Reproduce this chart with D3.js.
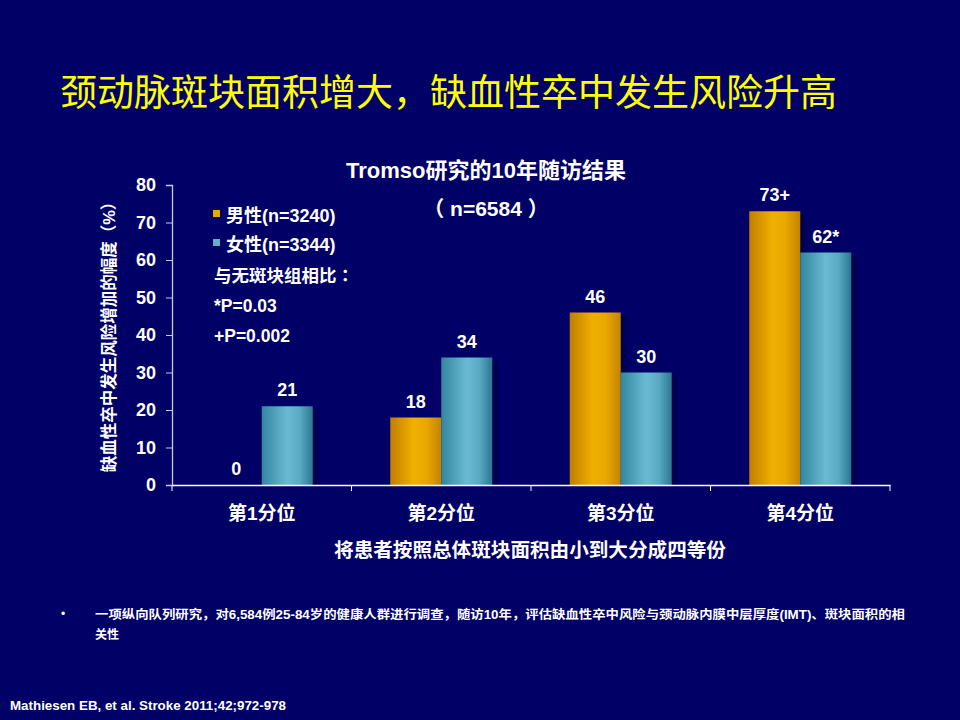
<!DOCTYPE html>
<html><head><meta charset="utf-8">
<script src="https://cdn.jsdelivr.net/npm/d3@7"></script>
<style>
html,body{margin:0;padding:0;background:#000066;}
svg{display:block;}
text{font-family:"Liberation Sans","Noto Sans CJK SC",sans-serif;}
.punct{font-family:"Noto Sans CJK TC",sans-serif;}
</style></head><body>
<script>
const categories = ["第1分位","第2分位","第3分位","第4分位"];
const seriesNames = ["男性(n=3240)","女性(n=3344)"];
const maleValues = [0,18,46,73];
const femaleValues = [21,34,30,62];
const maleLabels = ["0","18","46","73+"];
const femaleLabels = ["21","34","30","62*"];
const yTicks = [0,10,20,30,40,50,60,70,80];
const legendNotes = ["*P=0.03","+P=0.002"];

const W=960,H=720;
const svg=d3.select("body").append("svg").attr("width",W).attr("height",H);
svg.append("rect").attr("width",W).attr("height",H).attr("fill","#000066");

const defs=svg.append("defs");
function grad(id,stops){
  const g=defs.append("linearGradient").attr("id",id).attr("x1","0").attr("x2","1").attr("y1","0").attr("y2","0");
  stops.forEach(s=>g.append("stop").attr("offset",s[0]).attr("stop-color",s[1]));
}
grad("gMale",[[0,"#c07e00"],[0.45,"#f0b000"],[0.7,"#eaa800"],[1,"#c58300"]]);
grad("gFemale",[[0,"#3386a0"],[0.5,"#6abad2"],[0.75,"#5aaac4"],[1,"#2a778f"]]);

// Title
svg.append("text").attr("x",60).attr("y",106).attr("fill","#ffff00")
  .attr("font-size",37).attr("font-family","'Noto Sans CJK SC',sans-serif")
  .text("颈动脉斑块面积增大，缺血性卒中发生风险升高");

const x0=d3.scaleBand().domain(categories).range([172,890]);
const y=d3.scaleLinear().domain([0,80]).range([485,185]);
const barW=51;
const x1=d3.scaleBand().domain([0,1]).range([0,barW*2]);

const data=categories.map((c,i)=>({c,vals:[maleValues[i],femaleValues[i]],labs:[maleLabels[i],femaleLabels[i]]}));
const fills=["url(#gMale)","url(#gFemale)"];

const g=svg.append("g");
data.forEach(d=>{
  const base=x0(d.c)+x0.bandwidth()/2-barW;
  d.vals.forEach((v,j)=>{
    const bx=base+x1(j);
    if(v>0){
      g.append("rect").attr("x",bx+6).attr("y",y(v)+4).attr("width",barW).attr("height",y(0)-y(v)-4).attr("fill","#00004e").attr("opacity",0.8);
    }
  });
});
data.forEach(d=>{
  const base=x0(d.c)+x0.bandwidth()/2-barW;
  d.vals.forEach((v,j)=>{
    const bx=base+x1(j);
    g.append("rect").attr("x",bx).attr("y",y(v)).attr("width",barW).attr("height",y(0)-y(v)).attr("fill",fills[j]);
    g.append("text").attr("x",bx+barW/2).attr("y",y(v)-10).attr("text-anchor","middle")
      .attr("fill","#fff").attr("font-size",18).attr("font-weight","bold").text(d.labs[j]);
  });
});

// Axes
const yAxis=svg.append("g").attr("transform","translate(172,0)")
  .call(d3.axisLeft(y).tickValues(yTicks).tickSize(6).tickPadding(10));
yAxis.select(".domain").attr("stroke","#c8c8ff").attr("stroke-width",1.3);
yAxis.selectAll(".tick line").attr("stroke","#c8c8ff");
yAxis.selectAll(".tick text").attr("fill","#fff").attr("font-size",18).attr("font-weight","bold")
  .attr("font-family","'Liberation Sans',sans-serif");

const xAxis=svg.append("g").attr("transform","translate(0,485)")
  .call(d3.axisBottom(x0).tickSize(0).tickPadding(22));
xAxis.select(".domain").attr("stroke","#fff").attr("stroke-width",1.5);
xAxis.selectAll(".tick text").attr("fill","#fff").attr("font-size",19).attr("font-weight","bold");
// boundary ticks
const bounds=categories.map(c=>x0(c)).concat([x0.range()[1]]);
xAxis.selectAll(".bt").data(bounds).enter().append("line")
  .attr("x1",d=>d).attr("x2",d=>d).attr("y1",0).attr("y2",6).attr("stroke","#fff");

// Axis titles
svg.append("text").attr("x",530).attr("y",557).attr("text-anchor","middle")
  .attr("fill","#fff").attr("font-size",19.6).attr("font-weight","bold")
  .text("将患者按照总体斑块面积由小到大分成四等份");
const yt=svg.append("text").attr("transform","translate(115,333) rotate(-90)").attr("text-anchor","middle")
  .attr("fill","#fff").attr("font-size",16.5).attr("font-weight","bold")
  .attr("font-family","'Noto Sans CJK SC',sans-serif");
yt.append("tspan").text("缺血性卒中发生风险增加的幅度");
yt.append("tspan").attr("class","punct").text("（");
yt.append("tspan").text("%");
yt.append("tspan").attr("class","punct").text("）");

// Chart title
svg.append("text").attr("x",486).attr("y",178).attr("text-anchor","middle")
  .attr("fill","#fff").attr("font-size",22).attr("font-weight","bold")
  .text("Tromso研究的10年随访结果");
const st=svg.append("text").attr("x",486).attr("y",216).attr("text-anchor","middle")
  .attr("fill","#fff").attr("font-size",21).attr("font-weight","bold");
st.append("tspan").attr("class","punct").text("（");
st.append("tspan").text(" n=6584 ");
st.append("tspan").attr("class","punct").text("）");

// Legend
const legCols=["#e8a800","#5fb0c8"];
seriesNames.forEach((s,i)=>{
  const yy=222+i*29;
  svg.append("rect").attr("x",213).attr("y",yy-12).attr("width",7).attr("height",7).attr("fill",legCols[i]);
  svg.append("text").attr("x",226).attr("y",yy).attr("fill","#fff").attr("font-size",18).attr("font-weight","bold").text(s);
});
const cmp=svg.append("text").attr("x",214).attr("y",282).attr("fill","#fff").attr("font-size",17.5).attr("font-weight","bold")
  .attr("font-family","'Noto Sans CJK SC',sans-serif");
cmp.append("tspan").text("与无斑块组相比");
cmp.append("tspan").attr("class","punct").text("：");
legendNotes.forEach((s,i)=>{
  svg.append("text").attr("x",214).attr("y",312+i*30).attr("fill","#fff").attr("font-size",17.5).attr("font-weight","bold").text(s);
});

// Footnotes
svg.append("text").attr("x",61).attr("y",618).attr("fill","#fff").attr("font-size",12).text("•");
svg.append("text").attr("x",95).attr("y",619).attr("fill","#fff").attr("font-size",12).attr("font-weight","bold")
  .attr("textLength",810).attr("lengthAdjust","spacingAndGlyphs")
  .text("一项纵向队列研究，对6,584例25-84岁的健康人群进行调查，随访10年，评估缺血性卒中风险与颈动脉内膜中层厚度(IMT)、斑块面积的相");
svg.append("text").attr("x",95).attr("y",639).attr("fill","#fff").attr("font-size",12).attr("font-weight","bold")
  .attr("textLength",24).attr("lengthAdjust","spacingAndGlyphs").text("关性");
svg.append("text").attr("x",10).attr("y",710).attr("fill","#fff").attr("font-size",12).attr("font-weight","bold")
  .attr("textLength",276).attr("lengthAdjust","spacingAndGlyphs")
  .text("Mathiesen EB, et al. Stroke 2011;42;972-978");
</script>
</body></html>
